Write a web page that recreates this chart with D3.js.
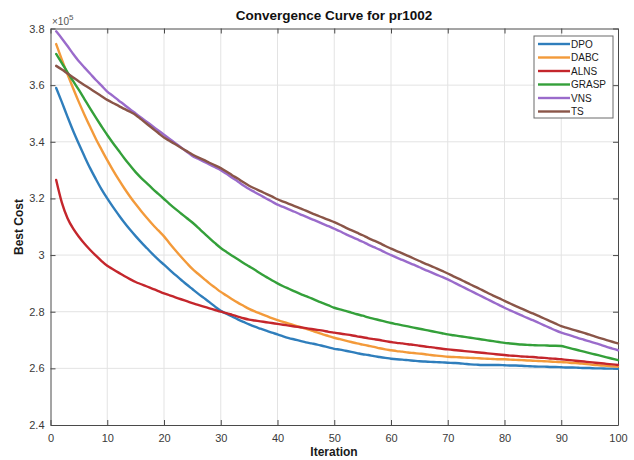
<!DOCTYPE html>
<html>
<head>
<meta charset="utf-8">
<script src="https://cdn.jsdelivr.net/npm/d3@7"></script>
<style>
  html, body { margin: 0; padding: 0; background: #fff; }
  svg { display: block; font-family: "Liberation Sans", Arial, sans-serif; }
</style>
</head>
<body>
<svg id="chart" width="634" height="460"></svg>
<script>
// ---------- DATA (values in units of 1e5) ----------
const iterations = d3.range(1, 101);
const seriesNames = ["DPO", "DABC", "ALNS", "GRASP", "VNS", "TS"];
const seriesColors = ["#2f7ebc", "#f39a3a", "#c4262c", "#34a03a", "#9a6bcb", "#8a5548"];

const DPO = [
3.590,3.540,3.488,3.438,3.392,3.348,3.306,3.268,3.232,3.200,
3.170,3.142,3.115,3.090,3.067,3.045,3.024,3.003,2.984,2.966,
2.948,2.930,2.913,2.896,2.880,2.864,2.849,2.834,2.818,2.803,
2.793,2.783,2.773,2.764,2.755,2.747,2.740,2.733,2.726,2.720,
2.713,2.707,2.702,2.697,2.692,2.688,2.684,2.679,2.674,2.669,
2.666,2.662,2.658,2.654,2.650,2.647,2.643,2.640,2.637,2.634,
2.632,2.631,2.629,2.627,2.625,2.624,2.623,2.622,2.621,2.620,
2.619,2.618,2.616,2.614,2.613,2.612,2.612,2.612,2.612,2.611,
2.610,2.610,2.609,2.608,2.607,2.606,2.606,2.605,2.605,2.604,
2.603,2.603,2.602,2.601,2.601,2.600,2.600,2.599,2.599,2.598];

const DABC = [
3.745,3.690,3.638,3.588,3.540,3.495,3.452,3.410,3.372,3.335,
3.300,3.267,3.236,3.207,3.180,3.155,3.131,3.108,3.087,3.066,
3.041,3.017,2.994,2.972,2.951,2.934,2.917,2.900,2.885,2.870,
2.857,2.844,2.832,2.821,2.810,2.801,2.793,2.785,2.777,2.770,
2.764,2.758,2.752,2.746,2.740,2.733,2.727,2.720,2.714,2.708,
2.703,2.698,2.693,2.688,2.684,2.680,2.676,2.671,2.667,2.664,
2.661,2.659,2.656,2.654,2.652,2.650,2.647,2.645,2.643,2.641,
2.640,2.639,2.638,2.637,2.636,2.635,2.634,2.633,2.632,2.632,
2.631,2.630,2.629,2.628,2.627,2.626,2.625,2.624,2.623,2.622,
2.621,2.619,2.618,2.616,2.614,2.612,2.610,2.609,2.607,2.606];

const ALNS = [
3.265,3.185,3.130,3.093,3.065,3.040,3.018,2.998,2.979,2.962,
2.950,2.938,2.926,2.915,2.905,2.897,2.889,2.881,2.873,2.865,
2.858,2.851,2.844,2.837,2.830,2.824,2.818,2.812,2.806,2.800,
2.795,2.789,2.783,2.777,2.772,2.769,2.766,2.763,2.760,2.757,
2.754,2.751,2.748,2.745,2.742,2.739,2.736,2.733,2.729,2.726,
2.723,2.720,2.717,2.713,2.710,2.706,2.703,2.700,2.696,2.693,
2.690,2.688,2.685,2.683,2.680,2.677,2.675,2.672,2.669,2.667,
2.665,2.663,2.661,2.659,2.657,2.655,2.653,2.651,2.649,2.647,
2.645,2.644,2.642,2.641,2.640,2.638,2.637,2.635,2.634,2.632,
2.630,2.628,2.626,2.624,2.622,2.620,2.618,2.616,2.614,2.612];

const GRASP = [
3.710,3.678,3.645,3.614,3.583,3.550,3.517,3.485,3.454,3.424,
3.396,3.369,3.342,3.317,3.293,3.272,3.253,3.234,3.216,3.198,
3.180,3.163,3.147,3.131,3.115,3.097,3.078,3.060,3.042,3.025,
3.011,2.998,2.985,2.972,2.960,2.948,2.935,2.923,2.911,2.900,
2.890,2.881,2.872,2.863,2.855,2.847,2.838,2.830,2.822,2.814,
2.808,2.803,2.797,2.791,2.786,2.780,2.775,2.770,2.765,2.760,
2.756,2.752,2.748,2.744,2.740,2.736,2.732,2.728,2.724,2.720,
2.717,2.714,2.711,2.708,2.705,2.702,2.699,2.696,2.693,2.690,
2.688,2.686,2.684,2.683,2.682,2.681,2.681,2.680,2.680,2.679,
2.674,2.669,2.664,2.659,2.654,2.649,2.644,2.639,2.634,2.629];

const VNS = [
3.790,3.765,3.738,3.710,3.684,3.662,3.640,3.618,3.598,3.577,
3.562,3.546,3.531,3.515,3.500,3.485,3.470,3.455,3.440,3.425,
3.410,3.395,3.380,3.365,3.350,3.340,3.330,3.320,3.310,3.300,
3.287,3.273,3.260,3.246,3.233,3.222,3.211,3.200,3.189,3.178,
3.170,3.161,3.153,3.144,3.136,3.127,3.119,3.110,3.102,3.093,
3.084,3.074,3.065,3.056,3.047,3.037,3.028,3.019,3.009,3.000,
2.991,2.983,2.974,2.966,2.957,2.948,2.940,2.931,2.923,2.914,
2.904,2.894,2.884,2.874,2.864,2.854,2.844,2.834,2.824,2.814,
2.805,2.796,2.787,2.778,2.770,2.761,2.752,2.743,2.734,2.726,
2.720,2.714,2.707,2.701,2.695,2.689,2.683,2.676,2.670,2.664];

const TS = [
3.668,3.655,3.641,3.627,3.613,3.600,3.587,3.574,3.561,3.548,
3.537,3.527,3.516,3.506,3.495,3.479,3.463,3.447,3.431,3.415,
3.403,3.391,3.379,3.367,3.355,3.345,3.336,3.326,3.317,3.307,
3.295,3.282,3.270,3.257,3.245,3.235,3.226,3.216,3.207,3.197,
3.189,3.181,3.173,3.165,3.157,3.148,3.140,3.132,3.124,3.116,
3.107,3.097,3.088,3.079,3.070,3.060,3.051,3.042,3.032,3.023,
3.014,3.006,2.997,2.988,2.979,2.970,2.962,2.953,2.944,2.935,
2.925,2.916,2.906,2.896,2.887,2.877,2.867,2.857,2.848,2.838,
2.829,2.820,2.811,2.802,2.794,2.785,2.776,2.767,2.758,2.749,
2.743,2.737,2.731,2.725,2.719,2.712,2.706,2.700,2.694,2.688];

const xTicks = [0,10,20,30,40,50,60,70,80,90,100];
const xTickLabels = ["0","10","20","30","40","50","60","70","80","90","100"];
const yTicks = [2.4,2.6,2.8,3.0,3.2,3.4,3.6,3.8];
const yTickLabels = ["2.4","2.6","2.8","3","3.2","3.4","3.6","3.8"];

const titleText = "Convergence Curve for pr1002";
const xLabelText = "Iteration";
const yLabelText = "Best Cost";

// ---------- LAYOUT ----------
const allSeries = [DPO, DABC, ALNS, GRASP, VNS, TS];
const svg = d3.select("#chart");
const L = 50.5, R = 618, T = 28.5, B = 425;

const x = d3.scaleLinear().domain([0, 100]).range([L, R]);
const y = d3.scaleLinear().domain([2.4, 3.8]).range([B, T]);

const axisColor = "#4a4a4a";
const labelColor = "#3a3a3a";

// grid
const grid = svg.append("g");
grid.selectAll("line.vg").data(xTicks.slice(1, -1)).enter().append("line")
  .attr("x1", d => x(d)).attr("x2", d => x(d)).attr("y1", T).attr("y2", B)
  .attr("stroke", "#e3e3e3").attr("stroke-width", 1);
grid.selectAll("line.hg").data(yTicks.slice(1, -1)).enter().append("line")
  .attr("x1", L).attr("x2", R).attr("y1", d => y(d)).attr("y2", d => y(d))
  .attr("stroke", "#e3e3e3").attr("stroke-width", 1);

// axes (ticks inward)
const xAxis = d3.axisBottom(x).tickValues(xTicks)
  .tickFormat((d, i) => xTickLabels[i]).tickSizeInner(-5).tickSizeOuter(0).tickPadding(9);
const yAxis = d3.axisLeft(y).tickValues(yTicks)
  .tickFormat((d, i) => yTickLabels[i]).tickSizeInner(-5).tickSizeOuter(0).tickPadding(6);
const xTop = d3.axisTop(x).tickValues(xTicks).tickFormat("").tickSizeInner(-5).tickSizeOuter(0);
const yRight = d3.axisRight(y).tickValues(yTicks).tickFormat("").tickSizeInner(-5).tickSizeOuter(0);

function styleAxis(g) {
  g.select(".domain").attr("stroke", axisColor);
  g.selectAll(".tick line").attr("stroke", axisColor);
  g.selectAll(".tick text").attr("fill", labelColor).style("font-size", "11px")
    .style("font-family", "'Liberation Sans', Arial, sans-serif");
}
svg.append("g").attr("transform", `translate(0,${B})`).call(xAxis).call(styleAxis);
svg.append("g").attr("transform", `translate(${L},0)`).call(yAxis).call(styleAxis);
svg.append("g").attr("transform", `translate(0,${T})`).call(xTop).call(styleAxis);
svg.append("g").attr("transform", `translate(${R},0)`).call(yRight).call(styleAxis);

// lines
const line = d3.line().x((d, i) => x(iterations[i])).y(d => y(d)).curve(d3.curveMonotoneX);
const lines = svg.append("g");
allSeries.forEach((s, k) => {
  lines.append("path").datum(s)
    .attr("d", line)
    .attr("fill", "none")
    .attr("stroke", seriesColors[k])
    .attr("stroke-width", 2.4)
    .attr("stroke-linejoin", "round")
    .attr("stroke-linecap", "round");
});

// exponent label
const exp = svg.append("text").attr("x", 52).attr("y", 25)
  .attr("fill", "#555").style("font-size", "10px");
exp.append("tspan").text("×10");
exp.append("tspan").attr("dy", -5).style("font-size", "8px").text("5");

// title
svg.append("text").attr("x", 334).attr("y", 20).attr("text-anchor", "middle")
  .style("font-size", "13.5px").style("font-weight", "bold").attr("fill", "#111")
  .text(titleText);

// axis labels
svg.append("text").attr("x", 334).attr("y", 456).attr("text-anchor", "middle")
  .style("font-size", "12px").style("font-weight", "bold").attr("fill", "#1a1a1a")
  .text(xLabelText);
svg.append("text").attr("transform", "translate(23,227) rotate(-90)").attr("text-anchor", "middle")
  .style("font-size", "12px").style("font-weight", "bold").attr("fill", "#1a1a1a")
  .text(yLabelText);

// legend
const lg = svg.append("g");
const lgX = 534, lgY = 36, lgW = 79, lgH = 82, rowH = 13.5;
lg.append("rect").attr("x", lgX).attr("y", lgY).attr("width", lgW).attr("height", lgH)
  .attr("fill", "#fff").attr("stroke", "#6a6a6a").attr("stroke-width", 1);
seriesNames.forEach((name, k) => {
  const yy = lgY + 8 + k * rowH;
  lg.append("line").attr("x1", lgX + 4).attr("x2", lgX + 36).attr("y1", yy).attr("y2", yy)
    .attr("stroke", seriesColors[k]).attr("stroke-width", 2.4);
  lg.append("text").attr("x", lgX + 37).attr("y", yy + 3.8)
    .style("font-size", "10px").attr("fill", "#1a1a1a").text(name);
});
</script>
</body>
</html>
